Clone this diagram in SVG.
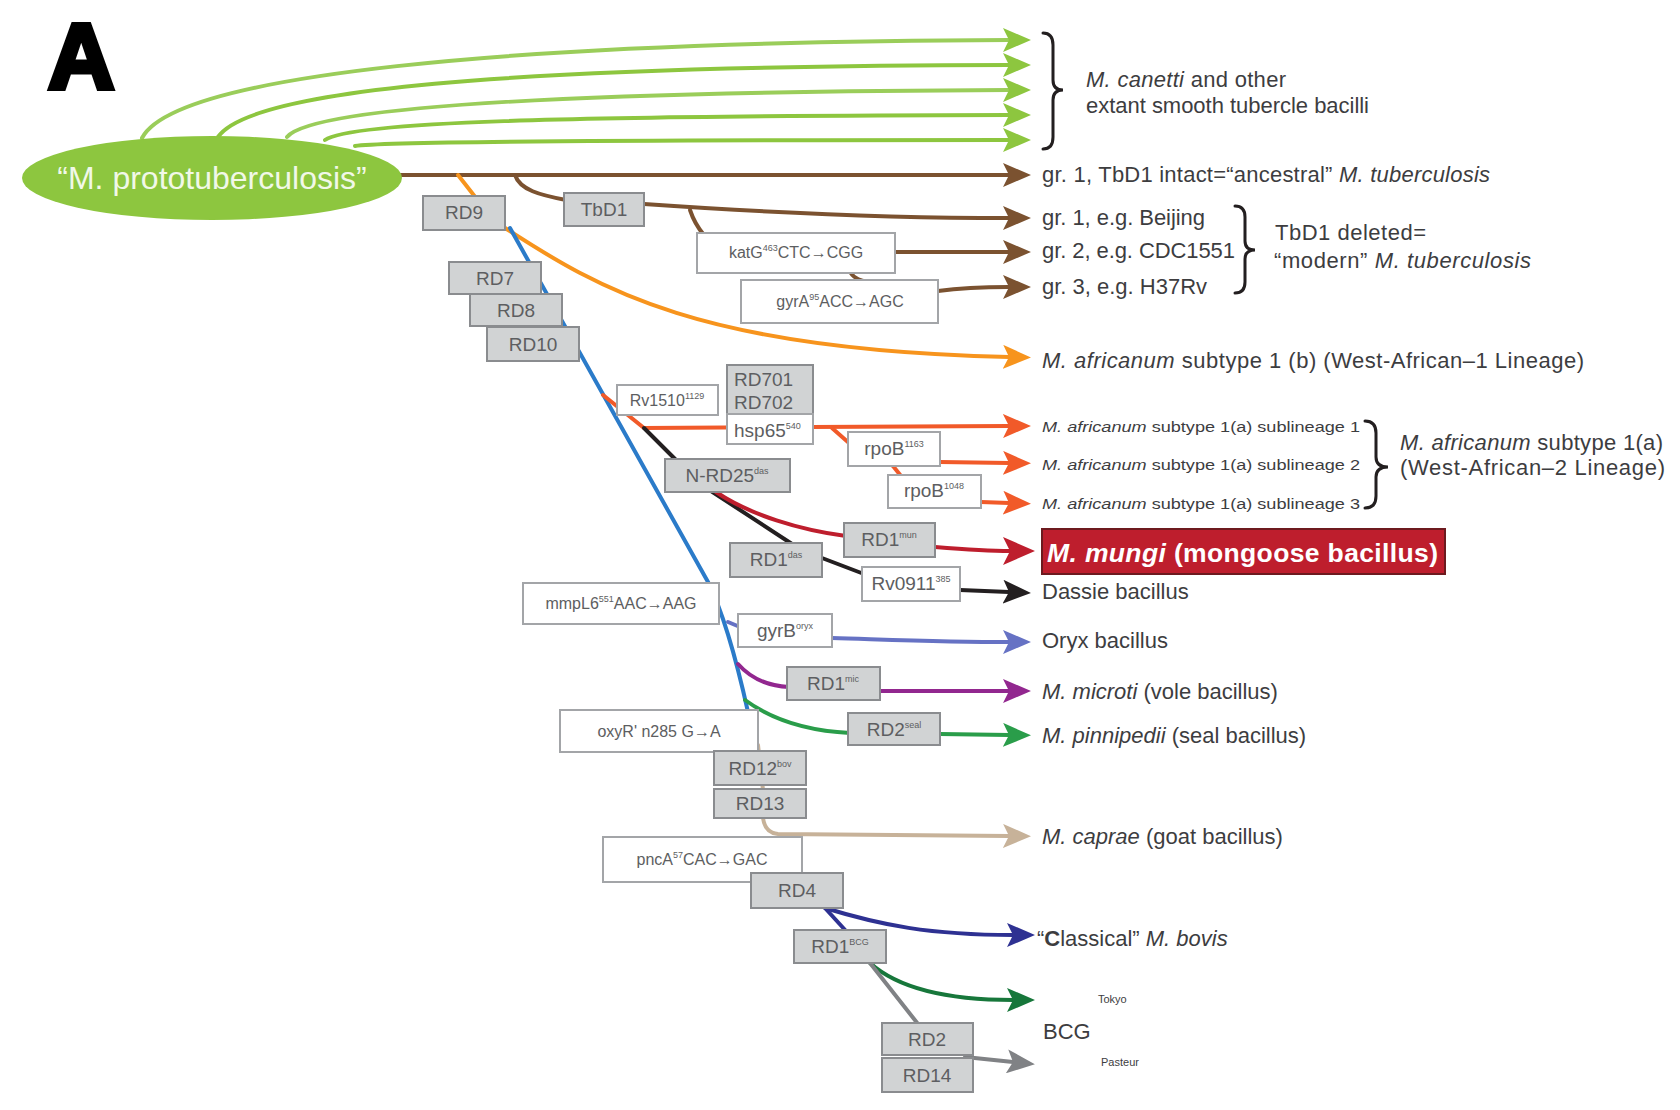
<svg xmlns="http://www.w3.org/2000/svg" width="1680" height="1110" viewBox="0 0 1680 1110">
<style>
text{font-family:"Liberation Sans",Arial,sans-serif;}
.lbl{font-size:22px;fill:#3d3d3f;}
.sm{font-size:15.5px;fill:#3d3d3f;}
.it{font-style:italic;}
.gb{fill:#d1d3d4;stroke:#8a8c8f;stroke-width:2;}
.wb{fill:#ffffff;stroke:#a3a5a8;stroke-width:2;}
.bt{font-size:19px;fill:#5d5e61;text-anchor:middle;}
.mt{font-size:16px;fill:#5d5e61;text-anchor:middle;}
.c{fill:none;stroke-width:4;stroke-linecap:round;}
.brace{fill:none;stroke:#231f20;stroke-width:3;stroke-linecap:round;}
</style>
<defs>
<marker id="aG" markerUnits="userSpaceOnUse" markerWidth="28" markerHeight="24" refX="6" refY="12" orient="auto"><path d="M0,0 L28,12 L0,24 L6,12 Z" fill="#8dc63f"/></marker>
<marker id="aBr" markerUnits="userSpaceOnUse" markerWidth="28" markerHeight="24" refX="6" refY="12" orient="auto"><path d="M0,0 L28,12 L0,24 L6,12 Z" fill="#7b5230"/></marker>
<marker id="aO" markerUnits="userSpaceOnUse" markerWidth="28" markerHeight="24" refX="6" refY="12" orient="auto"><path d="M0,0 L28,12 L0,24 L6,12 Z" fill="#f7941d"/></marker>
<marker id="aR" markerUnits="userSpaceOnUse" markerWidth="28" markerHeight="24" refX="6" refY="12" orient="auto"><path d="M0,0 L28,12 L0,24 L6,12 Z" fill="#f15a29"/></marker>
<marker id="aM" markerUnits="userSpaceOnUse" markerWidth="32" markerHeight="28" refX="7" refY="14" orient="auto"><path d="M0,0 L32,14 L0,28 L7,14 Z" fill="#be1e2d"/></marker>
<marker id="aK" markerUnits="userSpaceOnUse" markerWidth="28" markerHeight="24" refX="6" refY="12" orient="auto"><path d="M0,0 L28,12 L0,24 L6,12 Z" fill="#231f20"/></marker>
<marker id="aP" markerUnits="userSpaceOnUse" markerWidth="28" markerHeight="24" refX="6" refY="12" orient="auto"><path d="M0,0 L28,12 L0,24 L6,12 Z" fill="#6672c4"/></marker>
<marker id="aV" markerUnits="userSpaceOnUse" markerWidth="28" markerHeight="24" refX="6" refY="12" orient="auto"><path d="M0,0 L28,12 L0,24 L6,12 Z" fill="#92278f"/></marker>
<marker id="aS" markerUnits="userSpaceOnUse" markerWidth="28" markerHeight="24" refX="6" refY="12" orient="auto"><path d="M0,0 L28,12 L0,24 L6,12 Z" fill="#2a9d4a"/></marker>
<marker id="aE" markerUnits="userSpaceOnUse" markerWidth="28" markerHeight="24" refX="6" refY="12" orient="auto"><path d="M0,0 L28,12 L0,24 L6,12 Z" fill="#c7b299"/></marker>
<marker id="aN" markerUnits="userSpaceOnUse" markerWidth="28" markerHeight="24" refX="6" refY="12" orient="auto"><path d="M0,0 L28,12 L0,24 L6,12 Z" fill="#2e3192"/></marker>
<marker id="aD" markerUnits="userSpaceOnUse" markerWidth="28" markerHeight="24" refX="6" refY="12" orient="auto"><path d="M0,0 L28,12 L0,24 L6,12 Z" fill="#17773b"/></marker>
<marker id="aY" markerUnits="userSpaceOnUse" markerWidth="28" markerHeight="24" refX="6" refY="12" orient="auto"><path d="M0,0 L28,12 L0,24 L6,12 Z" fill="#808285"/></marker>
</defs>
<rect width="1680" height="1110" fill="#ffffff"/>
<g id="panel-letter"><text x="48" y="88" font-size="92" font-weight="bold" fill="#000" stroke="#000" stroke-width="5">A</text></g>

<g id="connectors">
<path class="c" stroke="#9acd5a" d="M142,138 C175,75 500,42 1009,40" marker-end="url(#aG)"/>
<path class="c" stroke="#8dc63f" d="M218,137 C250,90 500,66 1009,65" marker-end="url(#aG)"/>
<path class="c" stroke="#9acd5a" d="M287,137 C310,110 520,92 1009,90" marker-end="url(#aG)"/>
<path class="c" stroke="#8dc63f" d="M325,140 C350,122 550,116 1009,115" marker-end="url(#aG)"/>
<path class="c" stroke="#8dc63f" d="M355,146 C380,142 600,140 1009,140" marker-end="url(#aG)"/>
<path class="c" stroke="#7b5230" d="M400,175 L1009,175" marker-end="url(#aBr)"/>
<path class="c" stroke="#7b5230" d="M515,175 C520,190 540,195 566,200"/>
<path class="c" stroke="#7b5230" d="M644,204 C760,212 880,218 1009,218" marker-end="url(#aBr)"/>
<path class="c" stroke="#7b5230" d="M690,210 C694,222 698,228 704,235"/>
<path class="c" stroke="#7b5230" d="M895,252 L1009,252" marker-end="url(#aBr)"/>
<path class="c" stroke="#7b5230" d="M850,272 C856,281 864,281 872,283"/>
<path class="c" stroke="#7b5230" d="M938,291 C960,288 985,287 1009,287" marker-end="url(#aBr)"/>
<path class="c" stroke="#f7941d" d="M458,175 L476,198"/>
<path class="c" stroke="#f7941d" d="M502,226 C600,290 700,350 1009,357" marker-end="url(#aO)"/>
<path class="c" stroke="#2b7bc9" stroke-width="3.5" d="M510,228 L708,582 Q728,622 748,712"/>
<path class="c" stroke="#f15a29" d="M603,395 L644,428 L1009,426" marker-end="url(#aR)"/>
<path class="c" stroke="#f15a29" stroke-width="3" d="M832,428 L849,443"/>
<path class="c" stroke="#f15a29" d="M940,462 L1009,463" marker-end="url(#aR)"/>
<path class="c" stroke="#f15a29" stroke-width="3" d="M893,466 L901,476"/>
<path class="c" stroke="#f15a29" d="M981,502 L1009,503" marker-end="url(#aR)"/>
<path class="c" stroke="#231f20" stroke-width="3.5" d="M644,428 L676,460"/>
<path class="c" stroke="#231f20" stroke-width="3.5" d="M711,491 L792,544"/>
<path class="c" stroke="#231f20" stroke-width="3.5" d="M822,558 L864,574"/>
<path class="c" stroke="#231f20" d="M960,590 L1009,592" marker-end="url(#aK)"/>
<path class="c" stroke="#be1e2d" stroke-width="4.5" d="M716,492 C750,515 800,530 846,536"/>
<path class="c" stroke="#be1e2d" stroke-width="4.5" d="M935,547 C960,549 985,551 1010,551" marker-end="url(#aM)"/>
<path class="c" stroke="#6672c4" stroke-width="3.5" d="M728,622 L740,627"/>
<path class="c" stroke="#6672c4" stroke-width="3.5" d="M832,638 C900,640 950,642 1009,642" marker-end="url(#aP)"/>
<path class="c" stroke="#92278f" stroke-width="3.5" d="M738,664 C752,680 770,686 789,687"/>
<path class="c" stroke="#92278f" stroke-width="3.5" d="M880,691 L1009,691" marker-end="url(#aV)"/>
<path class="c" stroke="#2a9d4a" stroke-width="3.5" d="M745,700 C775,722 810,731 850,733"/>
<path class="c" stroke="#2a9d4a" stroke-width="3.5" d="M940,734 L1009,735" marker-end="url(#aS)"/>
<path class="c" stroke="#c7b299" stroke-width="3" d="M758,745 L763,790"/>
<path class="c" stroke="#c7b299" stroke-width="3.5" d="M763,818 Q765,833 778,834 L1009,836" marker-end="url(#aE)"/>
<path class="c" stroke="#2e3192" d="M825,908 L846,931"/>
<path class="c" stroke="#2e3192" d="M825,908 C880,925 930,935 1013,935" marker-end="url(#aN)"/>
<path class="c" stroke="#17773b" d="M870,963 C900,990 950,1000 1013,1000" marker-end="url(#aD)"/>
<path class="c" stroke="#808285" stroke-width="3.5" d="M870,963 L918,1024"/>
<path class="c" stroke="#808285" stroke-width="3.5" d="M965,1057 L1013,1062" marker-end="url(#aY)"/>
</g>

<g id="node-prototuberculosis">
<ellipse cx="212" cy="178" rx="190" ry="42" fill="#8dc63f"/>
<text x="212" y="189" font-size="32" fill="#f1f8e8" text-anchor="middle">“M. prototuberculosis”</text>
</g>

<g id="node-RD9"><rect class="gb" x="423" y="196" width="82" height="34"/><text class="bt" x="464" y="219">RD9</text></g>
<g id="node-TbD1"><rect class="gb" x="564" y="193" width="80" height="33"/><text class="bt" x="604" y="216">TbD1</text></g>
<g id="node-katG"><rect class="wb" x="697" y="233" width="198" height="40"/><text class="mt" x="796" y="258">katG<tspan font-size="9" dy="-7">463</tspan><tspan dy="7">CTC→CGG</tspan></text></g>
<g id="node-gyrA"><rect class="wb" x="741" y="280" width="197" height="43"/><text class="mt" x="840" y="307">gyrA<tspan font-size="9" dy="-7">95</tspan><tspan dy="7">ACC→AGC</tspan></text></g>
<g id="node-RD7"><rect class="gb" x="449" y="262" width="92" height="32"/><text class="bt" x="495" y="285">RD7</text></g>
<g id="node-RD8"><rect class="gb" x="470" y="294" width="92" height="32"/><text class="bt" x="516" y="317">RD8</text></g>
<g id="node-RD10"><rect class="gb" x="487" y="327" width="92" height="34"/><text class="bt" x="533" y="351">RD10</text></g>
<g id="node-Rv1510"><rect class="wb" x="617" y="385" width="101" height="30"/><text class="mt" x="667" y="406" font-size="17">Rv1510<tspan font-size="9" dy="-7">1129</tspan></text></g>
<g id="node-RD701-RD702"><rect class="gb" x="727" y="365" width="86" height="49"/><text class="bt" x="734" y="386" style="text-anchor:start">RD701</text><text class="bt" x="734" y="409" style="text-anchor:start">RD702</text></g>
<g id="node-hsp65"><rect class="wb" x="727" y="414" width="86" height="30"/><text class="bt" x="734" y="437" style="text-anchor:start">hsp65<tspan font-size="9" dy="-8">540</tspan></text></g>
<g id="node-rpoB1"><rect class="wb" x="848" y="432" width="92" height="34"/><text class="bt" x="894" y="455">rpoB<tspan font-size="9" dy="-8">1163</tspan></text></g>
<g id="node-rpoB2"><rect class="wb" x="888" y="475" width="93" height="33"/><text class="bt" x="934" y="497">rpoB<tspan font-size="9" dy="-8">1048</tspan></text></g>
<g id="node-N-RD25"><rect class="gb" x="665" y="459" width="125" height="33"/><text class="bt" x="727" y="482">N-RD25<tspan font-size="9" dy="-8">das</tspan></text></g>
<g id="node-RD1mun"><rect class="gb" x="844" y="523" width="91" height="34"/><text class="bt" x="889" y="546">RD1<tspan font-size="9" dy="-8">mun</tspan></text></g>
<g id="node-RD1das"><rect class="gb" x="730" y="543" width="92" height="34"/><text class="bt" x="776" y="566">RD1<tspan font-size="9" dy="-8">das</tspan></text></g>
<g id="node-Rv0911"><rect class="wb" x="862" y="567" width="98" height="34"/><text class="bt" x="911" y="590">Rv0911<tspan font-size="9" dy="-8">385</tspan></text></g>
<g id="node-mmpL6"><rect class="wb" x="523" y="583" width="196" height="41"/><text class="mt" x="621" y="609">mmpL6<tspan font-size="9" dy="-7">551</tspan><tspan dy="7">AAC→AAG</tspan></text></g>
<g id="node-gyrB"><rect class="wb" x="738" y="614" width="94" height="33"/><text class="bt" x="785" y="637">gyrB<tspan font-size="9" dy="-8">oryx</tspan></text></g>
<g id="node-RD1mic"><rect class="gb" x="787" y="667" width="93" height="33"/><text class="bt" x="833" y="690">RD1<tspan font-size="9" dy="-8">mic</tspan></text></g>
<g id="node-oxyR"><rect class="wb" x="560" y="710" width="198" height="42"/><text class="mt" x="659" y="737">oxyR' n285 G→A</text></g>
<g id="node-RD2seal"><rect class="gb" x="848" y="713" width="92" height="32"/><text class="bt" x="894" y="736">RD2<tspan font-size="9" dy="-8">seal</tspan></text></g>
<g id="node-RD12"><rect class="gb" x="714" y="751" width="92" height="34"/><text class="bt" x="760" y="775">RD12<tspan font-size="9" dy="-8">bov</tspan></text></g>
<g id="node-RD13"><rect class="gb" x="714" y="789" width="92" height="29"/><text class="bt" x="760" y="810">RD13</text></g>
<g id="node-pncA"><rect class="wb" x="603" y="837" width="199" height="45"/><text class="mt" x="702" y="865">pncA<tspan font-size="9" dy="-7">57</tspan><tspan dy="7">CAC→GAC</tspan></text></g>
<g id="node-RD4"><rect class="gb" x="751" y="873" width="92" height="35"/><text class="bt" x="797" y="897">RD4</text></g>
<g id="node-RD1BCG"><rect class="gb" x="794" y="930" width="92" height="33"/><text class="bt" x="840" y="953">RD1<tspan font-size="9" dy="-8">BCG</tspan></text></g>
<g id="node-RD2"><rect class="gb" x="882" y="1023" width="91" height="32"/><text class="bt" x="927" y="1046">RD2</text></g>
<g id="node-RD14"><rect class="gb" x="882" y="1058" width="91" height="34"/><text class="bt" x="927" y="1082">RD14</text></g>

<g id="label-canetti">
<path class="brace" d="M1043,33 Q1053,33 1053,45 L1053,80 Q1053,90 1063,90 Q1053,90 1053,100 L1053,137 Q1053,149 1043,149"/>
<text class="lbl" x="1086" y="87" textLength="200"><tspan class="it">M. canetti</tspan> and other</text>
<text class="lbl" x="1086" y="113" textLength="283">extant smooth tubercle bacilli</text>
</g>
<g id="label-ancestral"><text class="lbl" x="1042" y="182" textLength="448">gr. 1, TbD1 intact=“ancestral” <tspan class="it">M.  tuberculosis</tspan></text></g>
<g id="label-modern">
<text class="lbl" x="1042" y="225" textLength="163">gr. 1, e.g. Beijing</text>
<text class="lbl" x="1042" y="258" textLength="193">gr. 2, e.g. CDC1551</text>
<text class="lbl" x="1042" y="294" textLength="165">gr. 3, e.g. H37Rv</text>
<path class="brace" d="M1235,206 Q1245,206 1245,217 L1245,241 Q1245,250 1255,250 Q1245,250 1245,259 L1245,282 Q1245,293 1235,293"/>
<text class="lbl" x="1275" y="240" textLength="151">TbD1 deleted=</text>
<text class="lbl" x="1274" y="268" textLength="257">“modern” <tspan class="it">M.  tuberculosis</tspan></text>
</g>
<g id="label-africanum-1b"><text class="lbl" x="1042" y="368" textLength="542"><tspan class="it">M. africanum</tspan> subtype 1 (b) (West-African–1 Lineage)</text></g>
<g id="label-africanum-1a">
<text class="sm" x="1042" y="432" textLength="318" lengthAdjust="spacingAndGlyphs"><tspan class="it">M. africanum</tspan> subtype 1(a) sublineage 1</text>
<text class="sm" x="1042" y="470" textLength="318" lengthAdjust="spacingAndGlyphs"><tspan class="it">M. africanum</tspan> subtype 1(a) sublineage 2</text>
<text class="sm" x="1042" y="509" textLength="318" lengthAdjust="spacingAndGlyphs"><tspan class="it">M. africanum</tspan> subtype 1(a) sublineage 3</text>
<path class="brace" d="M1365,421 Q1376,421 1376,433 L1376,457 Q1376,467 1388,467 Q1376,467 1376,477 L1376,496 Q1376,508 1365,508"/>
<text class="lbl" x="1400" y="450" textLength="263"><tspan class="it">M. africanum</tspan> subtype 1(a)</text>
<text class="lbl" x="1400" y="475" textLength="265">(West-African–2 Lineage)</text>
</g>
<g id="label-mungi">
<rect x="1042" y="529" width="403" height="45" fill="#be1e2d" stroke="#6d1a1f" stroke-width="2"/>
<text x="1047" y="562" font-size="26.5" font-weight="bold" fill="#ffffff" textLength="391"><tspan font-style="italic">M. mungi</tspan> (mongoose bacillus)</text>
</g>
<g id="label-dassie"><text class="lbl" x="1042" y="599">Dassie bacillus</text></g>
<g id="label-oryx"><text class="lbl" x="1042" y="648">Oryx bacillus</text></g>
<g id="label-microti"><text class="lbl" x="1042" y="699"><tspan class="it">M. microti</tspan> (vole bacillus)</text></g>
<g id="label-pinnipedii"><text class="lbl" x="1042" y="743"><tspan class="it">M. pinnipedii</tspan> (seal bacillus)</text></g>
<g id="label-caprae"><text class="lbl" x="1042" y="844"><tspan class="it">M. caprae</tspan> (goat bacillus)</text></g>
<g id="label-bovis"><text class="lbl" x="1037" y="946">“<tspan font-weight="bold">C</tspan>lassical” <tspan class="it">M. bovis</tspan></text></g>
<g id="label-BCG">
<text class="lbl" x="1043" y="1039">BCG</text>
<text x="1098" y="1003" font-size="11" fill="#3d3d3f">Tokyo</text>
<text x="1101" y="1066" font-size="11" fill="#3d3d3f">Pasteur</text>
</g>
</svg>
